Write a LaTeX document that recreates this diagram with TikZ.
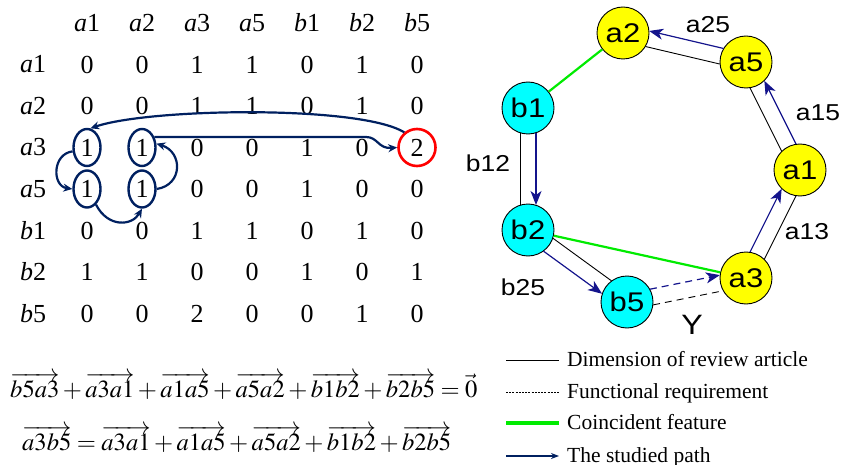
\documentclass[tikz,border=0pt]{standalone}
\usepackage{mathptmx}
\usepackage[no-math]{fontspec}
\setmainfont{Liberation Serif}
\newfontfamily\grafont[FakeStretch=1.15]{Liberation Sans}
\usetikzlibrary{arrows.meta, calc, shapes.geometric}
\definecolor{path_navy}{RGB}{0, 32, 96}
\definecolor{edge_navy}{RGB}{20, 20, 140}
\definecolor{coin_green}{RGB}{0, 235, 0}
\definecolor{feat_yellow}{RGB}{255, 255, 0}
\definecolor{feat_cyan}{RGB}{0, 255, 255}

% black edge and blue path edge side by side, blue on side #4 (1 = left of travel)
\newcommand{\pairedge}[4][]{%
  \draw[dimline, #1] ($(#2)!8pt!-90*#4:(#3)$) -- ($(#3)!8pt!90*#4:(#2)$);
  \draw[pathline, #1] ($(#2)!8pt!90*#4:(#3)$) -- ($(#3)!8pt!-90*#4:(#2)$);}

\begin{document}
\begin{tikzpicture}[x=1pt, y=-1pt,
      cell/.style={font=\fontsize{26}{30}\selectfont, inner sep=0pt},
      ring/.style={ellipse, draw=path_navy, line width=2.4pt, minimum width=27pt, minimum height=37pt, inner sep=0pt},
      hitring/.style={circle, draw=red, line width=2.6pt, minimum size=37pt, inner sep=0pt},
      matarrow/.style={draw=path_navy, line width=2.2pt, -{Stealth[length=9pt,width=8pt]}},
      feat/.style={circle, draw, line width=0.9pt, minimum size=52pt, inner sep=0pt, font=\grafont\fontsize{27}{27}\selectfont},
      featA/.style={feat, fill=feat_yellow},
      featB/.style={feat, fill=feat_cyan},
      lbl/.style={font=\grafont\fontsize{23}{23}\selectfont},
      dimline/.style={draw=black, line width=0.9pt, shorten <=25pt, shorten >=25pt},
      pathline/.style={draw=edge_navy, line width=1.2pt, -{Stealth[length=14pt,width=11pt,inset=4pt]}, shorten <=25pt, shorten >=25pt},
      coinline/.style={draw=coin_green, line width=2.2pt},
      eqn/.style={font=\fontsize{24.6}{29}\selectfont, inner sep=0pt},
      keytext/.style={font=\fontsize{21.5}{25}\selectfont, inner sep=0pt},
      dimkey/.style={draw=black, line width=0.8pt},
      reqkey/.style={draw=black, line width=0.6pt, dash pattern=on 2pt off 1.2pt},
      coinkey/.style={draw=coin_green, line width=3.5pt},
      pathkey/.style={draw=path_navy, line width=1.8pt, -{Stealth[length=8pt,width=6pt]}}]
    \useasboundingbox (0,0) rectangle (856,465);

    % adjacency matrix
    \foreach \ltr/\dig [count=\j] in {a/1, a/2, a/3, a/5, b/1, b/2, b/5}
      \node[cell] (col\j) at ({32+55*\j}, 23) {\textit{\ltr}\dig};
    \foreach \ltr/\dig/\vals [count=\i] in {a/1/{0,0,1,1,0,1,0}, a/2/{0,0,1,1,0,1,0},
        a/3/{1,1,0,0,1,0,2}, a/5/{1,1,0,0,1,0,0}, b/1/{0,0,1,1,0,1,0},
        b/2/{1,1,0,0,1,0,1}, b/5/{0,0,2,0,0,1,0}} {
      \node[cell] (row\i) at (33, {23+41.5*\i}) {\textit{\ltr}\dig};
      \foreach \v [count=\j] in \vals
        \node[cell] (c\i\j) at ({32+55*\j}, {23+41.5*\i}) {\v};
    }
    \node[ring] (e31) at (c31) {};
    \node[ring] (e32) at (c32) {};
    \node[ring] (e41) at (c41) {};
    \node[ring] (e42) at (c42) {};
    \node[hitring] (hit) at (c37) {};
    \draw[matarrow] (hit.130) .. controls (360,105) and (150,108) .. (e31.80);
    \draw[matarrow] (e32.40) -- (366,137) .. controls (378,137) and (378,149) .. (hit.west);
    \draw[matarrow] (e31.195) .. controls (52,154) and (52,186) .. (e41.west);
    \draw[matarrow] (e41.300) .. controls (108,228) and (132,226) .. (e42.south);
    \draw[matarrow] (e42.east) .. controls (183,185) and (183,152) .. (e32.15);

    % feature graph
    \node[featA] (a2) at (623,33)  {a2};
    \node[featA] (a5) at (746,62)  {a5};
    \node[featA] (a1) at (800,170) {a1};
    \node[featA] (a3) at (746,278) {a3};
    \node[featB] (b1) at (528,108) {b1};
    \node[featB] (b2) at (528,230) {b2};
    \node[featB] (b5) at (627,302) {b5};
    \draw[coinline] (b1) -- (a2);
    \draw[coinline] (b2) -- (a3);
    \pairedge{a5}{a2}{-1}
    \pairedge{a1}{a5}{-1}
    \pairedge{a3}{a1}{1}
    \pairedge{b1}{b2}{1}
    \pairedge{b2}{b5}{-1}
    \pairedge[dash pattern=on 7pt off 5pt]{b5}{a3}{1}
    \node[lbl] (l25) at (708,25)  {a25};
    \node[lbl] (l15) at (818,113) {a15};
    \node[lbl] (l13) at (807,232) {a13};
    \node[lbl] (b12) at (488,163) {b12};
    \node[lbl] (b25) at (523,287) {b25};
    \node[lbl, font=\grafont\fontsize{28}{28}\selectfont] (ylbl) at (692,325) {Y};

    % path equations
    \node[eqn, anchor=base west] (eq1) at (10,397)
      {$\overrightarrow{b5a3}+\overrightarrow{a3a1}+\overrightarrow{a1a5}+\overrightarrow{a5a2}+\overrightarrow{b1b2}+\overrightarrow{b2b5}=\vec{0}$};
    \node[eqn, anchor=base west] (eq2) at (22,450)
      {$\overrightarrow{a3b5}=\overrightarrow{a3a1}+\overrightarrow{a1a5}+\overrightarrow{a5a2}+\overrightarrow{b1b2}+\overrightarrow{b2b5}$};

    % legend
    \foreach \b/\sty/\txt [count=\k] in {366/dimkey/Dimension of review article,
        398/reqkey/Functional requirement, 429/coinkey/Coincident feature,
        462/pathkey/The studied path} {
      \coordinate (k\k) at (506,\b-6);
      \coordinate (ke\k) at (559,\b-6);
      \node[keytext, anchor=base west] (t\k) at (567,\b) {\txt};
      \draw[\sty] (k\k) -- (ke\k);
    }
\end{tikzpicture}
\end{document}
